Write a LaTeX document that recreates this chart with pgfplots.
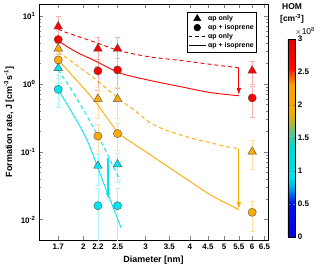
\documentclass[border=0pt]{standalone}
\usepackage{pgfplots}
\pgfplotsset{compat=1.18}
\usepackage{fontspec}
\setmainfont{Liberation Sans}
\usetikzlibrary{arrows.meta}
\definecolor{cred}{RGB}{255,0,0}
\definecolor{corange}{RGB}{255,170,0}
\definecolor{ccyan}{RGB}{0,230,240}
\definecolor{ered}{RGB}{248,175,175}
\definecolor{eorange}{RGB}{255,222,165}
\definecolor{ecyan}{RGB}{165,245,250}
\definecolor{edge}{RGB}{80,80,80}
\begin{document}
\begin{tikzpicture}
\begin{axis}[
  name=main,
  width=229bp, height=236bp, scale only axis,
  xmode=log, ymode=log,
  xmin=1.5, xmax=6.65, ymin=0.005, ymax=15,
  xtick={1.7,2,2.2,2.5,3,3.5,4,4.5,5,5.5,6,6.5},
  xticklabels={1.7,2,2.2,2.5,3,3.5,4,4.5,5,5.5,6,6.5},
  xminorticks=false,
  ytick={0.01,0.1,1,10},
  yticklabels={10\textsuperscript{-2},10\textsuperscript{-1},10\textsuperscript{0},10\textsuperscript{1}},
  tick align=inside, major tick length=4bp, minor tick length=2bp,
  tick label style={font=\bfseries\fontsize{8}{9}\selectfont},
  label style={font=\bfseries\fontsize{9}{10}\selectfont},
  xlabel={Diameter [nm]},
  ylabel={Formation rate, J [cm\textsuperscript{-3}s\textsuperscript{-1}]},
  axis line style={line width=0.8pt},
  colormap={hom}{rgb255(0cm)=(0,0,230); rgb255(5cm)=(0,20,235); rgb255(6cm)=(0,70,238); rgb255(7.5cm)=(0,170,240); rgb255(9cm)=(0,225,235); rgb255(13.5cm)=(0,215,215); rgb255(15.5cm)=(80,200,150); rgb255(17.5cm)=(190,180,40); rgb255(19cm)=(245,170,0); rgb255(23cm)=(255,160,0); rgb255(24.5cm)=(255,80,0); rgb255(25.5cm)=(255,10,0); rgb255(30cm)=(225,0,0)},
  point meta min=0, point meta max=3,
  colorbar,
  colorbar style={at={(1.087,0.852)}, anchor=north west, width=7.5bp, height=198bp, scale only axis,
    ytick={0,0.5,1,1.5,2,2.5,3}, yticklabels={0,0.5,1,1.5,2,2.5,3},
    yticklabel style={font=\bfseries\fontsize{8}{9}\selectfont, xshift=-1bp},
    major tick length=2bp, axis line style={line width=0.6pt}},
  legend style={at={(0.952,0.966)}, anchor=north east, draw=black, line width=0.6pt,
    font=\bfseries\fontsize{7}{8}\selectfont, inner sep=1pt, row sep=-1.5pt, cells={anchor=west}},
]
% error bars
\addplot[only marks, mark=none, forget plot, error bars/.cd, y dir=both, y explicit,
  error bar style={ered, line width=0.7pt}, error mark options={ered, rotate=90, mark size=2.5bp, line width=0.7pt}]
  coordinates {(1.7,7.0) +- (0,3.0) (2.2,3.3) +- (0,1.5) (2.5,3.3) +- (0,1.5) (6,1.56) +- (0,0.57)
               (1.7,4.5) +- (0,1.8) (2.2,1.55) +- (0,0.75) (2.5,1.6) +- (0,0.75) (6,0.62) +- (0,0.30)};
\addplot[only marks, mark=none, forget plot, error bars/.cd, y dir=both, y explicit,
  error bar style={eorange, line width=0.7pt}, error mark options={eorange, rotate=90, mark size=2.5bp, line width=0.7pt}]
  coordinates {(1.7,3.3) +- (0,1.3) (2.2,0.6) +- (0,0.29) (2.5,0.6) +- (0,0.29) (6,0.10) +- (0,0.045)
               (1.7,2.25) +- (0,0.9) (2.2,0.17) +- (0,0.08) (2.5,0.185) +- (0,0.08) (6,0.0128) +- (0,0.006)};
\addplot[only marks, mark=none, forget plot, error bars/.cd, y dir=both, y explicit,
  error bar style={ecyan, line width=0.7pt}, error mark options={ecyan, rotate=90, mark size=2.5bp, line width=0.7pt}]
  coordinates {(1.7,1.7) +- (0,0.7) (2.2,0.062) +- (0,0.03) (2.5,0.065) +- (0,0.03)
               (1.7,0.83) +- (0,0.38) (2.2,0.016) +- (0,0.0125) (2.5,0.016) +- (0,0.0125)};
% fitted lines
\addplot[cred, line width=0.9pt, dash pattern=on 4bp off 3bp, forget plot, smooth]
  coordinates {(1.70,6.44) (1.756,5.92) (2.065,4.44) (2.54,3.06) (3.09,2.49) (3.75,2.22) (4.56,1.94) (5.5,1.72)};
\addplot[cred, line width=0.9pt, forget plot, smooth]
  coordinates {(1.70,4.29) (1.91,2.95) (2.16,2.18) (2.54,1.44) (3.09,1.12) (3.75,0.912) (4.56,0.745) (5.5,0.667)};
\addplot[corange, line width=0.9pt, dash pattern=on 4bp off 3bp, forget plot, smooth]
  coordinates {(1.70,2.95) (1.91,1.90) (2.16,1.18) (2.54,0.582) (2.80,0.401) (3.09,0.267) (3.40,0.211) (3.75,0.178) (4.13,0.153) (4.56,0.136) (5.02,0.120) (5.5,0.111)};
\addplot[corange, line width=0.9pt, forget plot, smooth]
  coordinates {(1.70,2.25) (1.91,1.145) (2.16,0.55) (2.50,0.197) (2.80,0.127) (3.09,0.0904) (3.40,0.0644) (3.75,0.0459) (4.13,0.0327) (4.56,0.0233) (5.02,0.0178) (5.5,0.0140)};
\addplot[ccyan, line width=0.9pt, dash pattern=on 4bp off 3bp, forget plot, smooth]
  coordinates {(1.70,1.61) (1.898,0.667) (2.092,0.276) (2.306,0.107) (2.542,0.0375)};
\addplot[ccyan, line width=0.9pt, forget plot, smooth]
  coordinates {(1.70,0.816) (1.86,0.375) (2.048,0.150) (2.29,0.0333) (2.557,0.0076)};
% arrows
\addplot[cred, line width=1.2pt, -{Latex[length=7bp,width=4.5bp]}, forget plot] coordinates {(5.5,1.72) (5.5,0.68)};
\addplot[corange, line width=1.2pt, -{Latex[length=7bp,width=4.5bp]}, forget plot] coordinates {(5.5,0.111) (5.5,0.0142)};
\addplot[ccyan, line width=1.2pt, -{Latex[length=7bp,width=4.5bp]}, forget plot] coordinates {(2.35,0.082) (2.35,0.0197)};
% markers
\addplot[only marks, mark=triangle*, mark size=5bp, mark options={fill=cred, draw=edge, line width=0.4pt}, forget plot]
  coordinates {(1.7,7.0) (2.2,3.3) (2.5,3.3) (6,1.56)};
\addplot[only marks, mark=*, mark size=4.1bp, mark options={fill=cred, draw=edge, line width=0.4pt}, forget plot]
  coordinates {(1.7,4.5) (2.2,1.55) (2.5,1.6) (6,0.62)};
\addplot[only marks, mark=triangle*, mark size=5bp, mark options={fill=corange, draw=edge, line width=0.4pt}, forget plot]
  coordinates {(1.7,3.3) (2.2,0.6) (2.5,0.6) (6,0.10)};
\addplot[only marks, mark=*, mark size=4.1bp, mark options={fill=corange, draw=edge, line width=0.4pt}, forget plot]
  coordinates {(1.7,2.25) (2.2,0.17) (2.5,0.185) (6,0.0128)};
\addplot[only marks, mark=triangle*, mark size=5bp, mark options={fill=ccyan, draw=edge, line width=0.4pt}, forget plot]
  coordinates {(1.7,1.7) (2.2,0.062) (2.5,0.065)};
\addplot[only marks, mark=*, mark size=4.1bp, mark options={fill=ccyan, draw=edge, line width=0.4pt}, forget plot]
  coordinates {(1.7,0.83) (2.2,0.016) (2.5,0.016)};
% legend
\addlegendimage{only marks, mark=triangle*, mark size=4pt, black}
\addlegendentry{αp only}
\addlegendimage{only marks, mark=*, mark size=3.3pt, black}
\addlegendentry{αp + isoprene}
\addlegendimage{black, line width=0.8pt, dash pattern=on 3.5bp off 3bp}
\addlegendentry{αp only}
\addlegendimage{black, line width=0.8pt}
\addlegendentry{αp + isoprene}
\end{axis}
% colorbar annotations
\node[anchor=north west, inner sep=0pt, font=\bfseries\fontsize{8.5}{10}\selectfont] at ([xshift=14bp, yshift=0.5bp]main.north east) {HOM};
\node[anchor=north west, inner sep=0pt, font=\bfseries\fontsize{8.5}{10}\selectfont] at ([xshift=12bp, yshift=-10bp]main.north east) {[cm\textsuperscript{-3}]};
\node[anchor=west, inner sep=0pt, font=\fontsize{8.5}{9}\selectfont] at ([xshift=27bp, yshift=-27.5bp]main.north east) {$\times$10\textsuperscript{8}};
\pgfresetboundingbox
\useasboundingbox ([xshift=-39bp, yshift=-32bp]main.south west) rectangle ([xshift=52bp, yshift=4bp]main.north east);
\end{tikzpicture}
\end{document}
